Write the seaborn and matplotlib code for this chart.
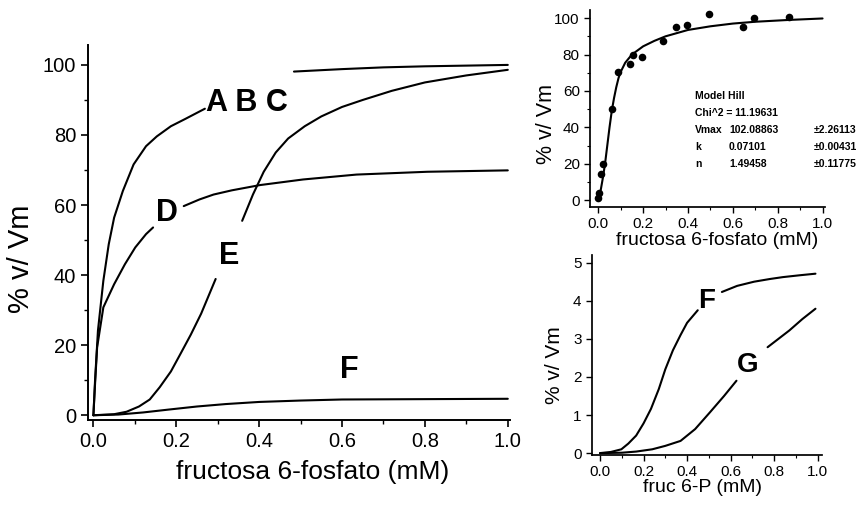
import numpy as np
import pandas as pd
import matplotlib
matplotlib.use("Agg")
import matplotlib.pyplot as plt
import seaborn as sns
from matplotlib.ticker import AutoMinorLocator

sns.set_theme(style="ticks")
plt.rcParams['font.family'] = ['Liberation Sans', 'DejaVu Sans']

# ---- main panel curves ----
abc1_x = [0.0, 0.004, 0.011, 0.024, 0.037, 0.050, 0.071, 0.097, 0.127, 0.153, 0.187, 0.222, 0.269]
abc1_y = [0.0, 10.0, 24.2, 38.4, 48.8, 56.4, 64.0, 71.6, 76.8, 79.6, 82.5, 84.6, 87.5]
abc2_x = [0.484, 0.55, 0.6, 0.7, 0.8, 0.9, 1.0]
abc2_y = [98.1, 98.5, 98.8, 99.3, 99.6, 99.8, 100.0]

d1_x = [0.0, 0.004, 0.009, 0.024, 0.05, 0.076, 0.101, 0.127, 0.144]
d1_y = [0.0, 9.0, 19.4, 30.8, 37.4, 43.1, 47.9, 51.7, 53.6]
d2_x = [0.218, 0.256, 0.29, 0.334, 0.402, 0.506, 0.635, 0.806, 1.0]
d2_y = [59.7, 61.6, 63.0, 64.2, 65.7, 67.3, 68.7, 69.5, 69.9]

e1_x = [0.0, 0.05, 0.08, 0.11, 0.136, 0.16, 0.187, 0.21, 0.235, 0.26, 0.295]
e1_y = [0.0, 0.3, 1.0, 2.5, 4.5, 8.0, 12.5, 17.5, 23.0, 29.0, 38.9]
e2_x = [0.359, 0.385, 0.411, 0.44, 0.47, 0.51, 0.55, 0.6, 0.65, 0.72, 0.8, 0.9, 1.0]
e2_y = [55.5, 63.0, 69.5, 75.0, 79.0, 82.5, 85.3, 88.0, 90.0, 92.6, 95.0, 97.0, 98.6]

f_x = [0.0, 0.06, 0.12, 0.18, 0.25, 0.32, 0.4, 0.5, 0.6, 0.8, 1.0]
f_y = [0.0, 0.2, 0.8, 1.6, 2.5, 3.2, 3.8, 4.2, 4.5, 4.6, 4.7]

# ---- top-right panel: data points and fitted curve ----
pts_x = [0.0, 0.005, 0.011, 0.019, 0.059, 0.09, 0.141, 0.156, 0.197, 0.289,
         0.348, 0.395, 0.495, 0.645, 0.693, 0.85]
pts_y = [1, 4, 14.6, 20, 50, 70.5, 75, 79.7, 78.4, 87.5,
         94.9, 96.2, 102, 94.9, 99.8, 100.4]
fit_x = [0.0, 0.01, 0.02, 0.03, 0.04, 0.05, 0.06, 0.07, 0.08, 0.09, 0.1, 0.12, 0.15,
         0.2, 0.25, 0.3, 0.4, 0.5, 0.6, 0.7, 0.85, 1.0]
fit_y = [0.0, 5, 12, 20, 30, 40, 49, 56, 62, 67, 70.5, 75.5, 80,
         84.5, 87.5, 90, 93.5, 95.5, 97, 98, 99, 99.8]
fit_text = ["Model Hill", "Chi^2 = 11.19631",
            ["Vmax", "102.08863", "±2.26113"],
            ["k", "0.07101", "±0.00431"],
            ["n", "1.49458", "±0.11775"]]

# ---- bottom-right panel ----
bf1_x = [0.0, 0.05, 0.098, 0.13, 0.166, 0.2, 0.234, 0.27, 0.30, 0.335, 0.37, 0.40, 0.449]
bf1_y = [0.0, 0.03, 0.1, 0.25, 0.46, 0.78, 1.16, 1.68, 2.2, 2.7, 3.1, 3.42, 3.75]
bf2_x = [0.56, 0.63, 0.708, 0.78, 0.84, 0.92, 0.99]
bf2_y = [4.23, 4.39, 4.5, 4.57, 4.62, 4.67, 4.71]
g1_x = [0.0, 0.1, 0.166, 0.24, 0.30, 0.37, 0.437, 0.505, 0.57, 0.627]
g1_y = [0.0, 0.01, 0.04, 0.1, 0.19, 0.32, 0.63, 1.07, 1.5, 1.9]
g2_x = [0.77, 0.87, 0.93, 0.99]
g2_y = [2.78, 3.22, 3.52, 3.79]

main_ticks = [0.0, 0.2, 0.4, 0.6, 0.8, 1.0]
main_tick_labels = ["0.0", "0.2", "0.4", "0.6", "0.8", "1.0"]
small_tick_labels = ["0.0", "0.2", "0.4", "0.6", "0.8", "1.0"]

fig = plt.figure(figsize=(8.68, 5.05), dpi=100)
ax = fig.add_axes([0.1014, 0.168, 0.486, 0.743])
ax2 = fig.add_axes([0.680, 0.590, 0.271, 0.390])
ax3 = fig.add_axes([0.682, 0.099, 0.265, 0.396])

lk = dict(color="black", linewidth=1.5, estimator=None, sort=False)

def seg(a, xs, ys):
    sns.lineplot(data=pd.DataFrame({"x": xs, "y": ys}), x="x", y="y", ax=a, **lk)

for xs, ys in [(abc1_x, abc1_y), (abc2_x, abc2_y), (d1_x, d1_y), (d2_x, d2_y),
               (e1_x, e1_y), (e2_x, e2_y), (f_x, f_y)]:
    seg(ax, xs, ys)

ax.set_xlim(-0.013, 1.005)
ax.set_ylim(-1.4, 105.7)
ax.set_xticks(main_ticks)
ax.set_xticklabels(main_tick_labels)
ax.set_yticks([0, 20, 40, 60, 80, 100])
ax.xaxis.set_minor_locator(AutoMinorLocator(2))
ax.yaxis.set_minor_locator(AutoMinorLocator(2))
ax.tick_params(axis="both", which="major", labelsize=14.5, length=5, width=1.2, color="black", labelcolor="black")
ax.tick_params(axis="both", which="minor", length=3, width=1.0, color="black")
ax.set_xlabel("fructosa 6-fosfato (mM)", fontsize=19, color="black")
ax.xaxis.set_label_coords(0.533, -0.105)
ax.set_ylabel("% v/ Vm", fontsize=21, color="black")
ax.yaxis.set_label_coords(-0.125, 0.43)
for s in ["top", "right"]:
    ax.spines[s].set_visible(False)
for s in ["left", "bottom"]:
    ax.spines[s].set_linewidth(1.4)
    ax.spines[s].set_color("black")
lab = dict(fontsize=22, fontweight="bold", color="black", ha="center", va="center")
ax.text(0.37, 89, "A B C", **lab)
ax.text(0.177, 57.7, "D", **lab)
ax.text(0.327, 45.5, "E", **lab)
ax.text(0.617, 13, "F", **lab)

# top right
seg(ax2, fit_x, fit_y)
sns.scatterplot(data=pd.DataFrame({"x": pts_x, "y": pts_y}), x="x", y="y", ax=ax2,
                color="black", s=30, marker="o", edgecolor="black", linewidth=0)
ax2.set_xlim(-0.036, 1.013)
ax2.set_ylim(-3.8, 104.4)
ax2.set_xticks(main_ticks)
ax2.set_xticklabels(small_tick_labels)
ax2.set_yticks([0, 20, 40, 60, 80, 100])
ax2.xaxis.set_minor_locator(AutoMinorLocator(2))
ax2.yaxis.set_minor_locator(AutoMinorLocator(2))
ax2.tick_params(axis="both", which="major", labelsize=11, length=4, width=1.0, color="black", labelcolor="black")
ax2.tick_params(axis="both", which="minor", length=2, width=0.8, color="black")
ax2.set_xlabel("fructosa 6-fosfato (mM)", fontsize=14, color="black")
ax2.xaxis.set_label_coords(0.54, -0.125)
ax2.set_ylabel("% v/ Vm", fontsize=15.5, color="black")
ax2.yaxis.set_label_coords(-0.14, 0.42)
for s in ["top", "right"]:
    ax2.spines[s].set_visible(False)
for s in ["left", "bottom"]:
    ax2.spines[s].set_color("black")
tk = dict(fontsize=7.5, fontweight="bold", color="black", transform=ax2.transAxes, va="center")
ax2.text(0.445, 0.565, fit_text[0], **tk)
ax2.text(0.445, 0.478, fit_text[1], **tk)
for yy, row in zip([0.391, 0.304, 0.217], fit_text[2:]):
    ax2.text(0.445, yy, row[0], **tk)
    ax2.text(0.59, yy, row[1], **tk)
    ax2.text(0.95, yy, row[2], **tk)

# bottom right
for xs, ys in [(bf1_x, bf1_y), (bf2_x, bf2_y), (g1_x, g1_y), (g2_x, g2_y)]:
    seg(ax3, xs, ys)
ax3.set_xlim(-0.037, 1.02)
ax3.set_ylim(-0.05, 5.2)
ax3.set_xticks(main_ticks)
ax3.set_xticklabels(small_tick_labels)
ax3.set_yticks([0, 1, 2, 3, 4, 5])
ax3.xaxis.set_minor_locator(AutoMinorLocator(2))
ax3.tick_params(axis="both", which="major", labelsize=11, length=4, width=1.0, color="black", labelcolor="black")
ax3.tick_params(axis="both", which="minor", length=2, width=0.8, color="black")
ax3.set_xlabel("fruc 6-P (mM)", fontsize=14, color="black")
ax3.xaxis.set_label_coords(0.48, -0.12)
ax3.set_ylabel("% v/ Vm", fontsize=15, color="black")
ax3.yaxis.set_label_coords(-0.12, 0.45)
for s in ["top", "right"]:
    ax3.spines[s].set_visible(False)
for s in ["left", "bottom"]:
    ax3.spines[s].set_color("black")
lab2 = dict(fontsize=20, fontweight="bold", color="black", ha="center", va="center")
ax3.text(0.49, 4.0, "F", **lab2)
ax3.text(0.68, 2.3, "G", **lab2)

fig.savefig("out.png", dpi=100, facecolor="white")
